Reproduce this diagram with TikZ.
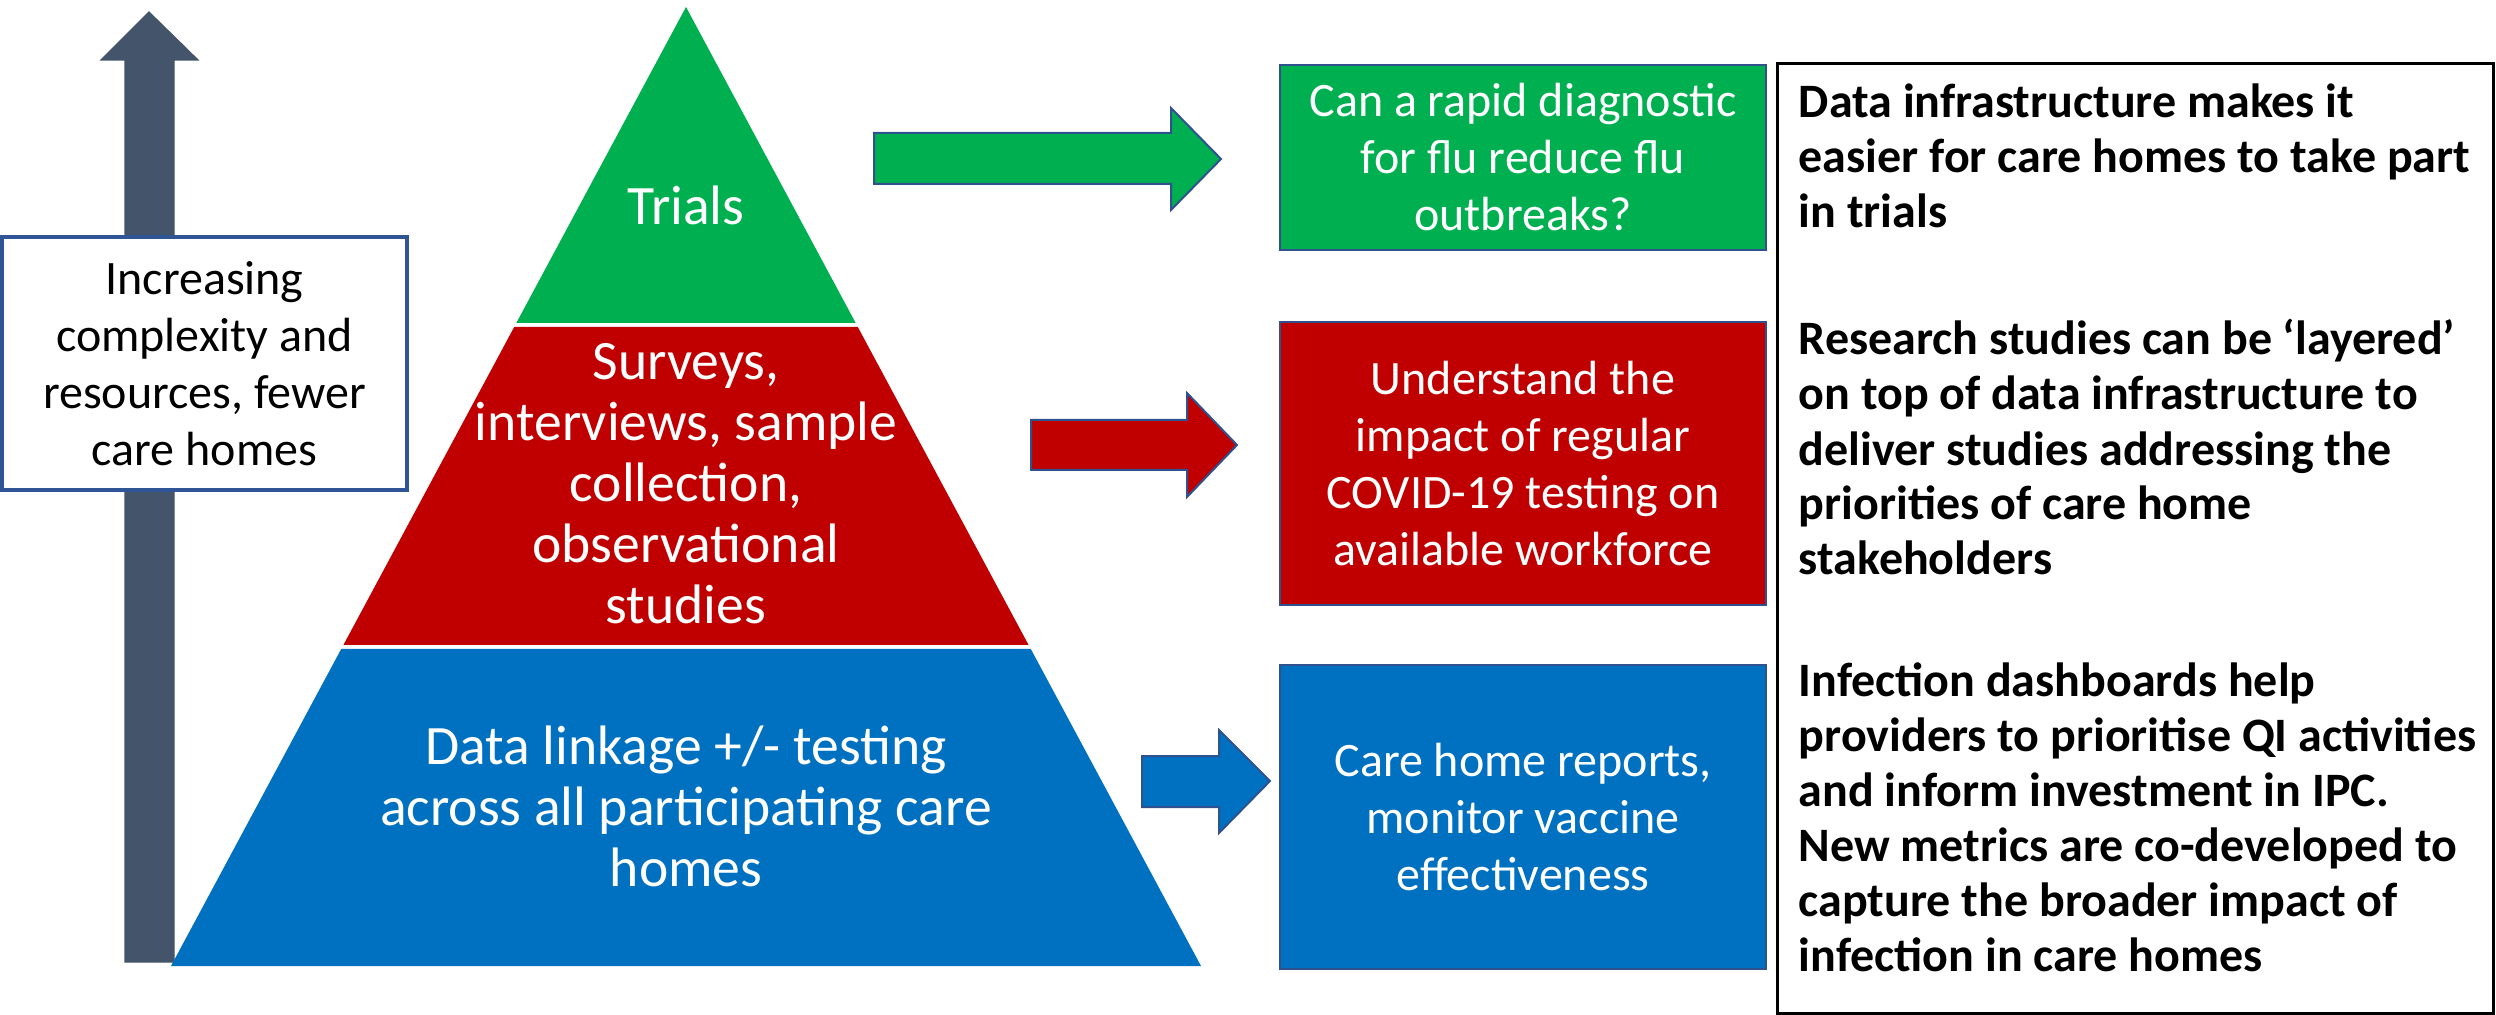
\documentclass[tikz,border=0pt]{standalone}
\usepackage{fontspec}
\setmainfont{Carlito}
\usetikzlibrary{positioning}

\definecolor{trialgreen}{HTML}{00B050}
\definecolor{surveyred}{HTML}{C00000}
\definecolor{linkblue}{HTML}{0070C0}
\definecolor{slate}{HTML}{44546A}
\definecolor{edgeblue}{HTML}{2F528F}
\definecolor{frameblue}{HTML}{2F5597}

\tikzset{
  tiertext/.style={text=white, align=center, inner sep=0pt, font=\fontsize{13.9}{15.25}\selectfont},
  outbox/.style={draw=edgeblue, line width=0.5pt, text=white, align=center, inner sep=0pt,
    minimum width=121.5pt, font=\fontsize{12}{14.25}\selectfont},
  blockarrow/.style={draw=edgeblue, line width=0.5pt, line join=miter},
  % multi-line nodes sit on the baseline of their last line
  note/.style={anchor=base west, align=left, inner sep=0pt, font=\fontsize{12}{13.75}\selectfont\bfseries},
}

\begin{document}
\begin{tikzpicture}[x=0.25pt, y=-0.25pt]
  \useasboundingbox (0,0) rectangle (2496,1015);

  % rising arrow, partly hidden by the label box
  \draw[fill=slate, draw=slate, line width=0.3pt] (125,962) -- (125,60) -- (101,60) -- (149,12)
    -- (198,60) -- (174,60) -- (174,962) -- cycle;
  \node[draw=frameblue, fill=white, line width=1pt, minimum width=101.25pt, minimum height=63.25pt,
    align=center, inner sep=0pt, font=\fontsize{12}{14.25}\selectfont] (scale) at (204.5,363.5)
    {Increasing\\complexity and\\resources, fewer\\care homes};

  % pyramid tiers
  \fill[trialgreen] (686,7) -- (855.7,323) -- (516.3,323) -- cycle;
  \fill[surveyred] (514.2,327) -- (857.8,327) -- (1028.6,645) -- (343.4,645) -- cycle;
  \fill[linkblue] (341.2,649) -- (1030.8,649) -- (1201,966) -- (171,966) -- cycle;
  \node[tiertext] (trials) at (686,205) {Trials};
  \node[tiertext] (surveys) at (686,484) {Surveys,\\interviews, sample\\collection,\\observational\\studies};
  \node[tiertext] (linkage) at (686,806) {Data linkage +/- testing\\across all participating care\\homes};

  % arrows out of each tier
  \draw[blockarrow, fill=trialgreen] (874,133) -- (1171,133) -- (1171,108) -- (1221,159)
    -- (1171,210) -- (1171,184) -- (874,184) -- cycle;
  \draw[blockarrow, fill=surveyred] (1031,420) -- (1187,420) -- (1187,393) -- (1237,445)
    -- (1187,497) -- (1187,470) -- (1031,470) -- cycle;
  \draw[blockarrow, fill=linkblue] (1142,756) -- (1219,756) -- (1219,730) -- (1270,781)
    -- (1219,833) -- (1219,807) -- (1142,807) -- cycle;

  % example studies
  \node[outbox, fill=trialgreen, minimum height=46.25pt] (flu) at (1523,157.5)
    {Can a rapid diagnostic\\for flu reduce flu\\outbreaks?};
  \node[outbox, fill=surveyred, minimum height=70.75pt] (covid) at (1523,463.5)
    {Understand the\\impact of regular\\COVID-19 testing on\\available workforce};
  \node[outbox, fill=linkblue, minimum height=76pt] (reports) at (1523,817)
    {Care home reports,\\monitor vaccine\\effectiveness};

  % what the infrastructure gives
  \node[draw=black, line width=0.75pt, minimum width=179pt, minimum height=237.25pt, inner sep=0pt]
    (benefits) at (2135,538.5) {};
  \node[note] (easier) at (1798,228)
    {Data infrastructure makes it\\easier for care homes to take part\\in trials};
  \node[note] (layered) at (1798,575)
    {Research studies can be ‘layered’\\on top of data infrastructure to\\deliver studies addressing the\\priorities of care home\\stakeholders};
  \node[note] (dashboards) at (1798,971)
    {Infection dashboards help\\providers to prioritise QI activities\\and inform investment in IPC.\\New metrics are co-developed to\\capture the broader impact of\\infection in care homes};
\end{tikzpicture}
\end{document}
